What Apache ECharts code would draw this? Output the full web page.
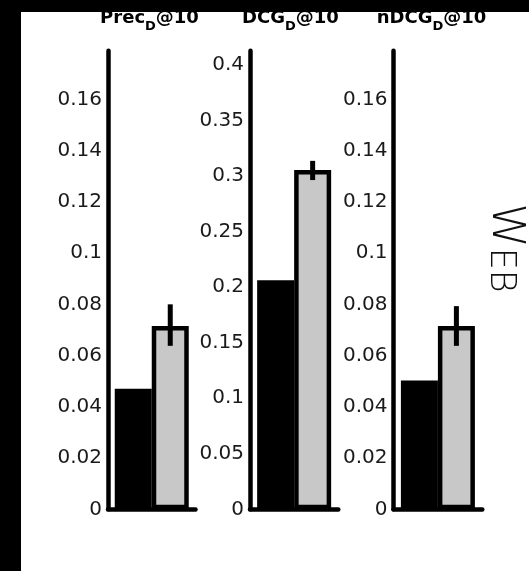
<!DOCTYPE html>
<html><head><meta charset="utf-8">
<script src="https://cdn.jsdelivr.net/npm/echarts@6/dist/echarts.min.js"></script>
<style>html,body{margin:0;padding:0;background:#fff}#c{width:529px;height:571px}</style>
</head><body><div id="c"></div>
<script>
// ---- data ----
const metricNames = ['Prec', 'DCG', 'nDCG'];
const metricSub = 'D';
const metricSuffix = '@10';
const baselineValues = [0.0471, 0.2062, 0.0503];
const proposedValues = [0.0715, 0.3055, 0.0715];
const errorLow = [0.0638, 0.2965, 0.0638];
const errorHigh = [0.0800, 0.3138, 0.0793];
const axisMax = [0.179, 0.413, 0.179];
const axisInterval = [0.02, 0.05, 0.02];
const sideLabelMain = 'W';
const sideLabelSmall = 'EB';

// ---- layout ----
const gridLeft = [108, 250, 393.5];
const gridWidth = [87.5, 88.3, 88.8];
const titleCenter = [149.5, 290.5, 431.5];
const gridTop = 50.7, gridBottomY = 509.3;
const BAR_W = 37;
const LINE_W = 4.5;

const chart = echarts.init(document.getElementById('c'), null, {renderer: 'canvas'});

const grids = [], xAxes = [], yAxes = [], series = [], graphics = [];

graphics.push({type: 'rect', shape: {x: 0, y: 0, width: 529, height: 12}, style: {fill: '#000'}, z: 100});
graphics.push({type: 'rect', shape: {x: 0, y: 0, width: 21, height: 571}, style: {fill: '#000'}, z: 100});

metricNames.forEach((name, i) => {
  grids.push({left: gridLeft[i], top: gridTop, width: gridWidth[i], height: gridBottomY - gridTop, outerBoundsMode: 'none', containLabel: false});
  xAxes.push({
    type: 'category', gridIndex: i, data: [''],
    axisLine: {show: true, lineStyle: {color: '#000', width: LINE_W}},
    axisTick: {show: false}, axisLabel: {show: false}, splitLine: {show: false}
  });
  yAxes.push({
    type: 'value', gridIndex: i, min: 0, max: axisMax[i], interval: axisInterval[i],
    axisLine: {show: true, lineStyle: {color: '#000', width: LINE_W}},
    axisTick: {show: false}, splitLine: {show: false},
    axisLabel: {fontFamily: 'DejaVu Sans', fontSize: 20, color: '#1a1a1a', margin: 6, showMaxLabel: false}
  });
  series.push({
    type: 'bar', xAxisIndex: i, yAxisIndex: i, data: [baselineValues[i]],
    barWidth: BAR_W, barGap: '0%',
    itemStyle: {color: '#000', borderColor: '#000', borderWidth: LINE_W},
    animation: false, silent: true
  });
  series.push({
    type: 'bar', xAxisIndex: i, yAxisIndex: i, data: [proposedValues[i]],
    barWidth: BAR_W, barGap: '0%',
    itemStyle: {color: '#c8c8c8', borderColor: '#000', borderWidth: LINE_W},
    animation: false, silent: true
  });
  series.push({
    type: 'custom', xAxisIndex: i, yAxisIndex: i,
    data: [[0, errorLow[i], errorHigh[i]]],
    encode: {x: 0, y: [1, 2]},
    z: 10, animation: false, silent: true,
    renderItem: (params, api) => {
      const lo = api.coord([api.value(0), api.value(1)]);
      const hi = api.coord([api.value(0), api.value(2)]);
      const dx = BAR_W / 2;
      return {type: 'line', shape: {x1: lo[0] + dx, y1: lo[1], x2: hi[0] + dx, y2: hi[1]},
              style: {stroke: '#000', lineWidth: 5}};
    }
  });
  graphics.push({
    type: 'text', x: titleCenter[i], y: 9.5, z: 50,
    style: {
      text: '{a|' + name + '}{s|' + metricSub + '}{a|' + metricSuffix + '}',
      align: 'center', verticalAlign: 'top', fill: '#000',
      rich: {
        a: {fontFamily: 'DejaVu Sans', fontWeight: 'bold', fontSize: 18, lineHeight: 18, verticalAlign: 'top'},
        s: {fontFamily: 'DejaVu Sans', fontWeight: 'bold', fontSize: 13, lineHeight: 13, padding: [11, 0, 0, 0], verticalAlign: 'top'}
      }
    }
  });
});

graphics.push({
  type: 'text', x: 505, y: 248, rotation: -Math.PI / 2, z: 50,
  style: {
    text: '{w|' + sideLabelMain + '}{e|' + sideLabelSmall + '}',
    align: 'center', verticalAlign: 'middle', fill: '#111',
    rich: {
      w: {fontFamily: 'DejaVu Sans', fontWeight: 200, fontSize: 45, lineHeight: 45, verticalAlign: 'bottom'},
      e: {fontFamily: 'DejaVu Sans', fontWeight: 200, fontSize: 35, lineHeight: 39, verticalAlign: 'bottom'}
    }
  }
});

chart.setOption({
  animation: false,
  backgroundColor: '#fff',
  grid: grids, xAxis: xAxes, yAxis: yAxes, series: series,
  graphic: graphics
});
</script></body></html>
